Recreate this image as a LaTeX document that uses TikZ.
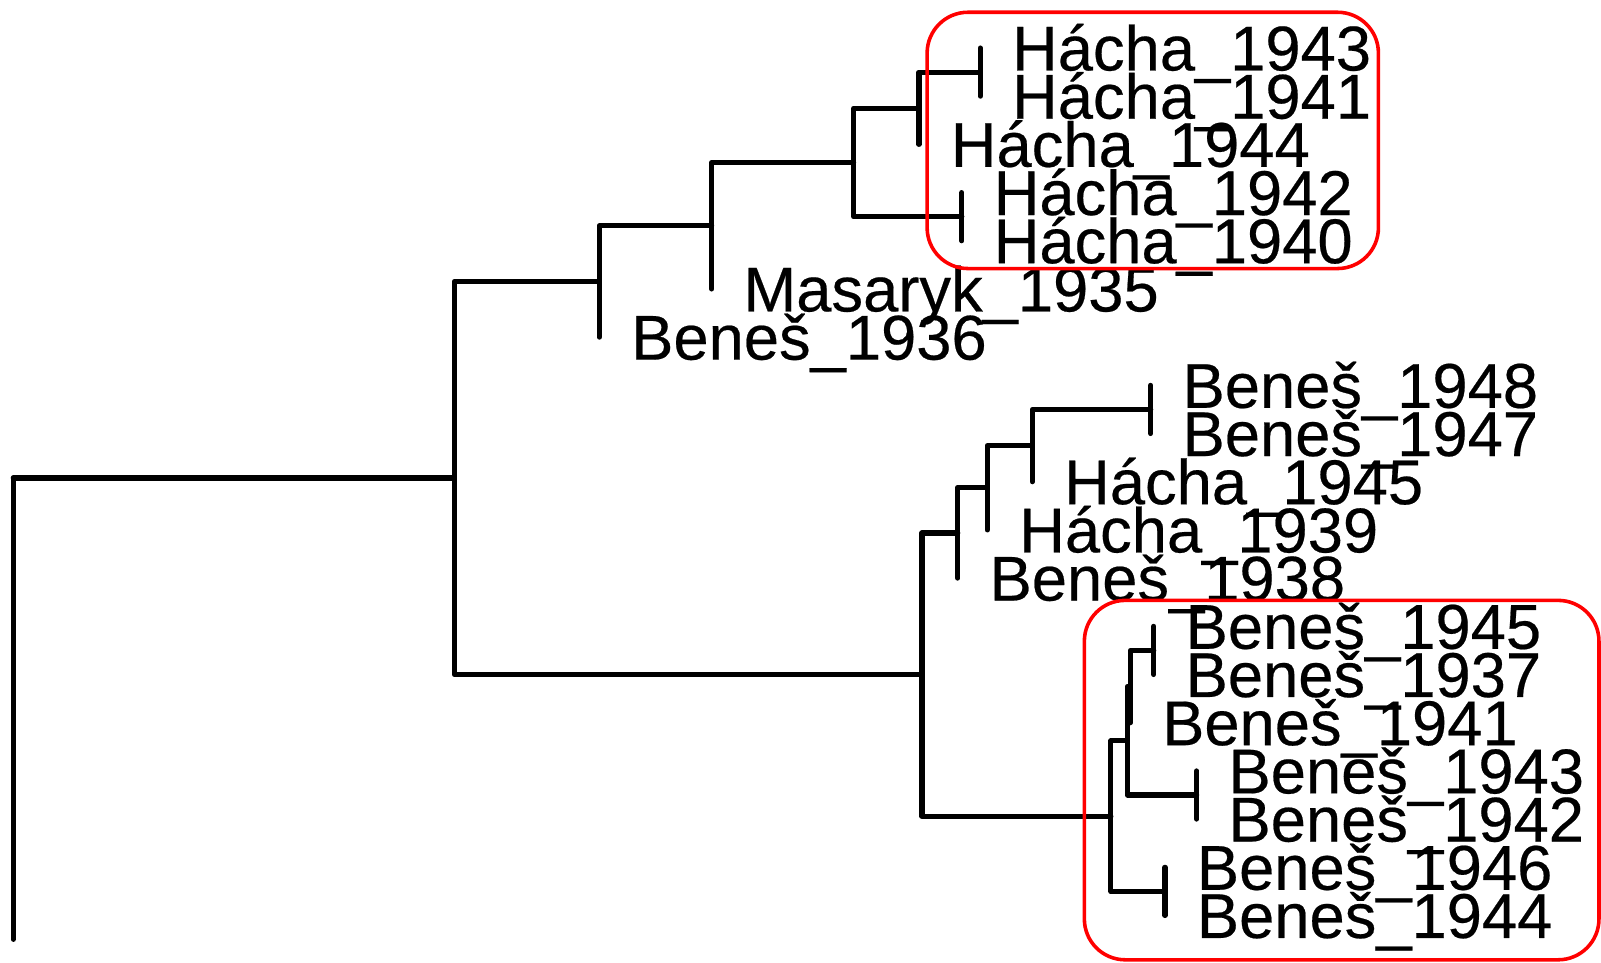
\documentclass[tikz,border=0pt]{standalone}
\usepackage{fontspec}
\setmainfont{Liberation Sans}[FakeBold=0.35]
\usetikzlibrary{calc}
\begin{document}
\begin{tikzpicture}[x=1pt,y=-1pt,
  branch/.style={line width=5pt, line cap=round, line join=round},
  leaflabel/.style={anchor=base west, inner sep=0pt, font=\fontsize{62pt}{62pt}\selectfont},
  groupbox/.style={draw=red, line width=3.5pt, rounded corners=40pt}]
\useasboundingbox (0,0) rectangle (1568,943);

% leaves (tip of each branch)
\coordinate (l1)  at (960,47.0);
\coordinate (l2)  at (960,94.2);
\coordinate (l3)  at (900,141.4);
\coordinate (l4)  at (942,188.6);
\coordinate (l5)  at (942,235.8);
\coordinate (l6)  at (697,283.0);
\coordinate (l7)  at (587,330.2);
\coordinate (l8)  at (1127,377.4);
\coordinate (l9)  at (1127,424.6);
\coordinate (l10) at (1011,471.8);
\coordinate (l11) at (967,519.0);
\coordinate (l12) at (938,566.2);
\coordinate (l13) at (1130,613.4);
\coordinate (l14) at (1130,660.6);
\coordinate (l15) at (1107,707.8);
\coordinate (l16) at (1172,755.0);
\coordinate (l17) at (1172,802.2);
\coordinate (l18) at (1141,849.4);
\coordinate (l19) at (1141,896.6);

% merge points
\coordinate (F) at (960,70.6);
\coordinate (E) at (900,106.0);
\coordinate (G) at (942,212.2);
\coordinate (D) at (836,159.1);
\coordinate (C) at (697,221.05);
\coordinate (B) at (587,275.6);
\coordinate (L) at (1127,401.0);
\coordinate (K) at (1011,436.4);
\coordinate (J) at (967,477.7);
\coordinate (I) at (938,522.0);
\coordinate (R) at (1130,637.0);
\coordinate (O) at (1107,672.4);
\coordinate (P) at (1172,778.6);
\coordinate (N) at (1104,725.5);
\coordinate (Q) at (1141,873.0);
\coordinate (M) at (1088,799.3);
\coordinate (H) at (903,660.6);
\coordinate (A) at (445,468.1);
\coordinate (root) at (13,468.1);
\coordinate (rootend) at (13,920);

% branches
\draw[branch] (root) -- (rootend);
\foreach \p/\c in {root/A, A/B, A/H, B/C, B/l7, C/D, C/l6, D/E, D/G,
                   E/F, E/l3, F/l1, F/l2, G/l4, G/l5,
                   H/I, H/M, I/J, I/l12, J/K, J/l11, K/L, K/l10, L/l8, L/l9,
                   M/N, M/Q, N/O, N/P, O/R, O/l15, R/l13, R/l14,
                   P/l16, P/l17, Q/l18, Q/l19}
  \draw[branch] (\p) |- (\c);

% leaf labels
\foreach \i/\t in {1/Hácha\_1943, 2/Hácha\_1941, 3/Hácha\_1944, 4/Hácha\_1942,
                   5/Hácha\_1940, 6/Masaryk\_1935, 7/Beneš\_1936, 8/Beneš\_1948,
                   9/Beneš\_1947, 10/Hácha\_1945, 11/Hácha\_1939, 12/Beneš\_1938,
                   13/Beneš\_1945, 14/Beneš\_1937, 15/Beneš\_1941, 16/Beneš\_1943,
                   17/Beneš\_1942, 18/Beneš\_1946, 19/Beneš\_1944}
  \node[leaflabel] (t\i) at ($(l\i)+(31,22)$) {\t};

% highlighted groups
\draw[groupbox] (908,12) rectangle (1350,263);
\draw[groupbox] (1062,588) rectangle (1566,940);
\end{tikzpicture}
\end{document}
